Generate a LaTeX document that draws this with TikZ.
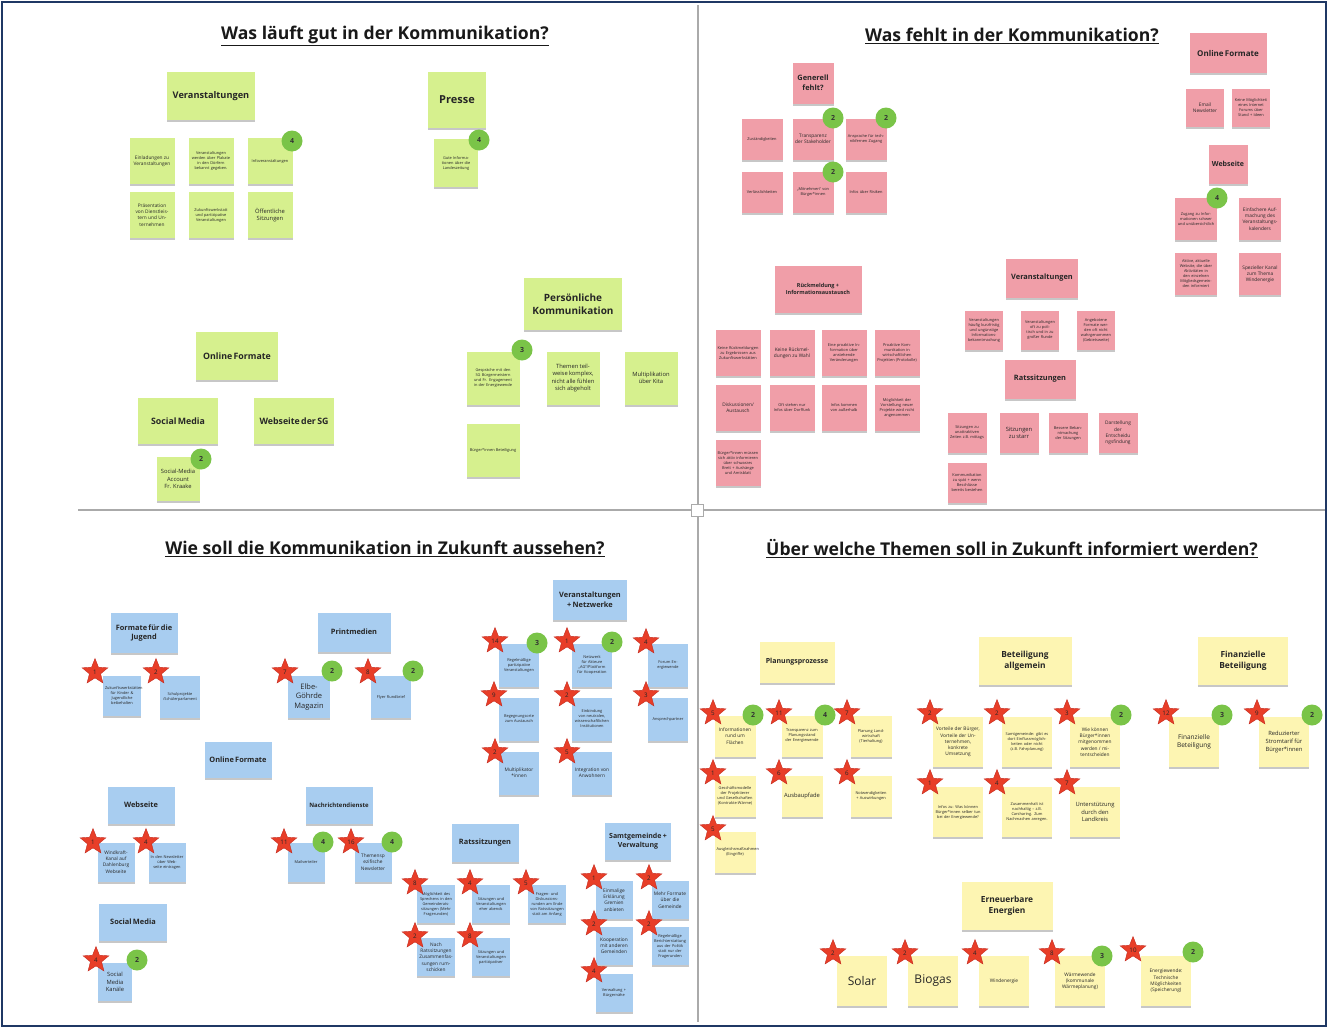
\documentclass[tikz,border=0pt]{standalone}
\usepackage{fontspec}
\setmainfont{Open Sans}
\usetikzlibrary{shapes.geometric,shadows}
\definecolor{gnote}{RGB}{214,240,142}
\definecolor{pnote}{RGB}{240,158,168}
\definecolor{bnote}{RGB}{168,205,240}
\definecolor{ynote}{RGB}{253,245,178}
\definecolor{starred}{RGB}{232,62,40}
\definecolor{stardark}{RGB}{196,40,28}
\definecolor{badgegreen}{RGB}{122,196,72}
\definecolor{navy}{RGB}{31,56,100}
\definecolor{divider}{RGB}{170,170,170}
\newcommand{\fhd}{\bfseries\fontsize{8.8}{11.5}\selectfont}
\newcommand{\fhs}{\bfseries\fontsize{7.4}{9.6}\selectfont}
\newcommand{\fhy}{\bfseries\fontsize{8.4}{11}\selectfont}
\newcommand{\fmd}{\fontsize{5.8}{7.6}\selectfont}
\newcommand{\fsm}{\fontsize{4.8}{6.2}\selectfont}
\newcommand{\flg}{\fontsize{7.5}{9.4}\selectfont}
\newcommand{\fxl}{\fontsize{12}{15}\selectfont}
\newcommand{\nt}[7]{\pgfmathsetmacro{\tw}{#5-4}\node[#1, minimum width=#5pt, minimum height=#6pt, text width=\tw pt] (#2) at (#3,#4) {#7\par};}
\newcommand{\hdr}[7]{\pgfmathsetmacro{\tw}{#5-2}\node[#1, inner xsep=1pt, minimum width=#5pt, minimum height=#6pt, text width=\tw pt] (#2) at (#3,#4) {#7\par};}
\newcommand{\strn}[4]{\node[votestar] (#1) at (#2,#3) {#4};}
\newcommand{\bdg}[4]{\node[badge] (#1) at (#2,#3) {#4};}
\tikzset{
  note/.style={inner xsep=2pt, inner ysep=1pt, align=center, text=black!85,
    font=\fontsize{3.9}{5}\selectfont,
    drop shadow={shadow xshift=0.4pt, shadow yshift=-2.2pt, opacity=0.22, fill=black}},
  gn/.style={note, fill=gnote},
  pn/.style={note, fill=pnote},
  bn/.style={note, fill=bnote},
  yn/.style={note, fill=ynote},
  votestar/.style={star, star points=5, star point ratio=2.3, minimum size=27pt, inner sep=0pt,
    fill=starred, draw=stardark, line width=0.4pt, text=black!85, font=\fontsize{6.2}{6.2}\selectfont},
  badge/.style={circle, minimum size=21pt, inner sep=0pt, fill=badgegreen,
    text=black!80, font=\bfseries\fontsize{7}{7}\selectfont},
  qtitle/.style={font=\bfseries\fontsize{17.6}{20}\selectfont, text=black!90, inner sep=0pt}
}
\begin{document}
\begin{tikzpicture}[x=1pt,y=-1pt]
\useasboundingbox (0,0) rectangle (1328,1028);
\fill[white] (0,0) rectangle (1328,1028);
\draw[navy, line width=2.5pt] (2,2) rectangle (1326,1026);
\draw[divider, line width=1.2pt] (698,5) -- (698,1022);
\draw[divider, line width=1.2pt] (78,510) -- (1325,510);
\node[draw=divider, fill=white, minimum size=12pt, inner sep=0pt] (ctr) at (697,510) {};

% titles
\node[qtitle] (t1) at (385,36) {\underline{Was läuft gut in der Kommunikation?}};
\node[qtitle] (t2) at (1012,36) {\underline{Was fehlt in der Kommunikation?}};
\node[qtitle] (t3) at (385,549) {\underline{Wie soll die Kommunikation in Zukunft aussehen?}};
\node[qtitle] (t4) at (1012,549) {\underline{Über welche Themen soll in Zukunft informiert werden?}};

% ===== Q1 green =====
\hdr{gn}{g1h}{211}{96}{88}{48}{\bfseries\fontsize{9.2}{12}\selectfont Veranstaltungen}
\nt{gn}{g1a}{152}{161}{45}{46}{\fsm Einladungen zu Veranstaltungen}
\nt{gn}{g1b}{211}{161}{45}{46}{Veranstaltungen werden über Plakate in den Dörfern bekannt gegeben.}
\nt{gn}{g1c}{270}{161}{45}{46}{Infoveranstaltungen}
\nt{gn}{g1d}{152}{215}{45}{46}{\fsm Präsentation von Dienstleistern und Unternehmen}
\nt{gn}{g1e}{211}{215}{45}{46}{Zukunftswerkstatt und partizipative Veranstaltungen}
\nt{gn}{g1f}{270}{215}{45}{46}{\fmd Öffentliche Sitzungen}
\bdg{b1}{292}{141}{4}

\hdr{gn}{g2h}{457}{100}{58}{56}{\bfseries\fontsize{11}{13}\selectfont Presse}
\nt{gn}{g2a}{456}{163}{44}{48}{Gute Informationen über die Landeszeitung}
\bdg{b2}{479}{140}{4}

\hdr{gn}{g3h}{573}{304}{98}{52}{\bfseries\fontsize{10}{13.5}\selectfont Persönliche\\Kommunikation}
\nt{gn}{g3a}{493}{378}{53}{53}{Gespräche mit den SG Bürgermeistern und Fr. Engagement in der Energiewende}
\nt{gn}{g3b}{573}{378}{53}{53}{\fmd Themen teilweise komplex, nicht alle fühlen sich abgeholt}
\nt{gn}{g3c}{651}{378}{53}{53}{\fmd Multiplikation über Kita}
\nt{gn}{g3d}{493}{450}{53}{53}{Bürger*innen Beteiligung}
\bdg{b3}{522}{350}{3}

\hdr{gn}{g4h}{237}{356}{82}{48}{\fhd Online Formate}
\hdr{gn}{g4a}{178}{421}{80}{46}{\fhd Social Media}
\hdr{gn}{g4b}{294}{421}{80}{46}{\fhd Webseite der SG}
\nt{gn}{g4c}{178}{479}{43}{44}{\fmd Social-Media Account Fr. Kraake}
\bdg{b4}{201}{459}{2}

% ===== Q2 pink =====
\hdr{pn}{p1h}{813}{83}{41}{41}{\fhs Generell\\fehlt?}
\nt{pn}{p1a}{762}{139}{41}{41}{Zuständigkeiten}
\nt{pn}{p1b}{813}{139}{41}{41}{\fsm Transparenz der Stakeholder}
\nt{pn}{p1c}{866}{139}{41}{41}{Ansprache für technikfernen Zugang}
\nt{pn}{p1d}{762}{192}{41}{41}{Verlässlichkeiten}
\nt{pn}{p1e}{813}{192}{41}{41}{„Mitnehmen“ von Bürger*innen}
\nt{pn}{p1f}{866}{192}{41}{41}{Infos über Risiken}
\bdg{b5}{833}{118}{2}
\bdg{b6}{886}{118}{2}
\bdg{b7}{833}{172}{2}

\hdr{pn}{p2h}{1228}{53}{77}{40}{\bfseries\fontsize{8}{10}\selectfont Online Formate}
\nt{pn}{p2a}{1205}{108}{38}{38}{\fsm Email Newsletter}
\nt{pn}{p2b}{1251}{108}{38}{38}{Keine Möglichkeit eines Internet Forums über Stand + Ideen}
\hdr{pn}{p3h}{1228}{164}{39}{39}{\bfseries\fontsize{7}{9}\selectfont Webseite}
\nt{pn}{p3a}{1196}{219}{42}{42}{Zugang zu Informationen schwer und unübersichtlich}
\nt{pn}{p3b}{1260}{219}{42}{42}{\fsm Einfachere Aufmachung des Veranstaltungs\-kalenders}
\nt{pn}{p3c}{1196}{274}{42}{42}{Aktive, aktuelle Website, die über Aktivitäten in den einzelnen Mitgliedsgemeinden informiert}
\nt{pn}{p3d}{1260}{274}{42}{42}{\fsm Spezieller Kanal zum Thema Windenergie}
\bdg{b8}{1217}{198}{4}

\hdr{pn}{p4h}{818}{289}{87}{47}{\bfseries\fontsize{5.5}{7.5}\selectfont Rückmeldung +\\Informationsaustausch}
\nt{pn}{p4a}{738}{353}{45}{46}{Keine Rückmeldungen zu Ergebnissen aus Zukunftswerkstätten}
\nt{pn}{p4b}{792}{353}{45}{46}{\fsm Keine Rückmeldungen zu Wahl}
\nt{pn}{p4c}{844}{353}{45}{46}{Eine proaktive Information über anstehende Veränderungen}
\nt{pn}{p4d}{897}{353}{45}{46}{Proaktive Kommunikation in wirtschaftlichen Projekten (Protokolle)}
\nt{pn}{p4e}{738}{408}{45}{46}{\fsm Diskussionen/ Austausch}
\nt{pn}{p4f}{792}{408}{45}{46}{Oft stehen nur Infos über Dorffunk}
\nt{pn}{p4g}{844}{408}{45}{46}{Infos kommen von außerhalb}
\nt{pn}{p4i}{897}{408}{45}{46}{Möglichkeit der Vorstellung neuer Projekte wird nicht angenommen}
\nt{pn}{p4j}{738}{463}{45}{46}{Bürger*innen müssen sich aktiv informieren über schwarzes Brett + Aushänge und Amtsblatt}

\hdr{pn}{p5h}{1042}{278}{72}{39}{\fhs Veranstaltungen}
\nt{pn}{p5a}{984}{330}{38}{39}{Veranstaltungen häufig kurzfristig und ungünstige Informations\-bekanntmachung}
\nt{pn}{p5b}{1040}{330}{38}{39}{Veranstaltungen oft zu politisch und in zu großer Runde}
\nt{pn}{p5c}{1096}{330}{38}{39}{Angebotene Formate werden oft nicht wahrgenommen (Gebietsweite)}
\hdr{pn}{p6h}{1040}{379}{71}{39}{\fhs Ratssitzungen}
\nt{pn}{p6a}{967}{433}{39}{40}{Sitzungen zu unattraktiven Zeiten z.B. mittags}
\nt{pn}{p6b}{1019}{433}{39}{40}{\fmd Sitzungen zu starr}
\nt{pn}{p6c}{1068}{433}{39}{40}{Bessere Bekanntmachung der Sitzungen}
\nt{pn}{p6d}{1118}{433}{39}{40}{\fsm Darstellung\\der\\Entscheidu\\ngsfindung}
\nt{pn}{p6e}{967}{483}{39}{40}{Kommunikation zu spät + wenn Beschlüsse bereits bestehen}

% ===== Q3 blue =====
\hdr{bn}{q1h}{144}{633}{67}{40}{\fhs Formate für die\\Jugend}
\nt{bn}{q1a}{122}{696}{38}{40}{Zukunftswerkstätten für Kinder \& Jugendliche beibehalten}
\nt{bn}{q1b}{180}{697}{40}{42}{Schulprojekte /Schülerparlament}
\strn{s1}{95}{672}{1}
\strn{s2}{156}{672}{2}
\hdr{bn}{q2h}{354}{632}{73}{39}{\fhs Printmedien}
\nt{bn}{q2a}{309}{697}{42}{42}{\flg Elbe-\\Göhrde\\Magazin}
\nt{bn}{q2b}{391}{697}{40}{42}{Flyer Rundbrief}
\strn{s3}{285}{672}{7}
\bdg{b9}{332}{671}{2}
\strn{s4}{368}{672}{8}
\bdg{b10}{413}{671}{2}

\hdr{bn}{q3h}{590}{600}{74}{40}{\fhs Veranstaltungen\\+ Netzwerke}
\nt{bn}{q3a}{519}{665}{40}{43}{Regelmäßige partizipative Veranstaltungen}
\nt{bn}{q3b}{592}{665}{40}{43}{Netzwerk für Akteure „AG“/Plattform für Kooperation}
\nt{bn}{q3c}{668}{665}{40}{43}{Forum Energiewende}
\nt{bn}{q3d}{519}{719}{40}{43}{Begegnungsorte zum Austausch}
\nt{bn}{q3e}{592}{719}{40}{43}{Einbindung von neutralen, wissenschaftlichen Institutionen}
\nt{bn}{q3f}{668}{719}{40}{43}{Ansprechpart\-ner}
\nt{bn}{q3g}{519}{773}{40}{43}{\fsm Multiplikator *innen}
\nt{bn}{q3i}{592}{773}{40}{43}{\fsm Integration von Anwohnern}
\strn{s5}{495}{641}{14}
\strn{s6}{494}{695}{9}
\strn{s7}{495}{752}{2}
\strn{s8}{567}{641}{1}
\strn{s9}{567}{695}{2}
\strn{s10}{567}{752}{5}
\strn{s11}{646}{642}{4}
\strn{s12}{646}{695}{3}
\bdg{b11}{537}{643}{3}
\bdg{b12}{612}{642}{2}

\hdr{bn}{q4h}{238}{760}{67}{36}{\fhs Online Formate}
\hdr{bn}{q5h}{141}{805}{67}{37}{\fhs Webseite}
\nt{bn}{q5a}{116}{862}{37}{39}{\fsm Windkraft-Kanal auf Dahlenburg Webseite}
\nt{bn}{q5b}{167}{862}{37}{39}{In den Newsletter über Webseite eintragen}
\strn{s13}{93}{842}{1}
\strn{s14}{146}{842}{4}
\hdr{bn}{q6h}{339}{805}{67}{37}{\bfseries\fontsize{6}{7.5}\selectfont Nachrichtendienste}
\nt{bn}{q6a}{306}{862}{37}{39}{Mailverteiler}
\nt{bn}{q6b}{373}{862}{37}{39}{\fsm Themensp\\ezifische\\Newsletter}
\strn{s15}{284}{842}{11}
\bdg{b13}{323}{842}{4}
\strn{s16}{351}{842}{16}
\bdg{b14}{392}{842}{4}
\hdr{bn}{q7h}{133}{922}{68}{37}{\fhs Social Media}
\nt{bn}{q7a}{115}{982}{34}{38}{\fmd Social Media Kanäle}
\strn{s17}{96}{960}{4}
\bdg{b15}{137}{960}{2}

\hdr{bn}{q8h}{485}{843}{67}{38}{\fhs Ratssitzungen}
\nt{bn}{q8a}{436}{904}{38}{38}{Möglichkeit des Sprechens in den Gemeinderats\-sitzungen (Mehr Fragerunden)}
\nt{bn}{q8b}{491}{904}{38}{38}{Sitzungen und Veranstaltungen eher abends}
\nt{bn}{q8c}{547}{904}{38}{38}{Fragen- und Diskussions\-runden am Ende von Ratssitzungen statt am Anfang}
\nt{bn}{q8d}{436}{957}{38}{38}{\fsm Nach Ratssitzungen Zusammenfas\-sungen rumschicken}
\nt{bn}{q8e}{491}{957}{38}{38}{Sitzungen und Veranstaltungen partizipativer}
\strn{s18}{415}{883}{8}
\strn{s19}{470}{883}{4}
\strn{s20}{526}{883}{5}
\strn{s21}{415}{936}{2}
\strn{s22}{470}{936}{8}

\hdr{bn}{q9h}{638}{841}{66}{37}{\bfseries\fontsize{7}{9.2}\selectfont Samtgemeinde +\\Verwaltung}
\nt{bn}{q9a}{614}{900}{37}{38}{\fsm Einmalige Erklärung Gremien anbieten}
\nt{bn}{q9b}{670}{900}{37}{38}{\fsm Mehr Formate über die Gemeinde}
\nt{bn}{q9c}{614}{946}{37}{38}{\fsm Kooperation mit anderen Gemeinden}
\nt{bn}{q9d}{670}{946}{37}{38}{Regelmäßige Bericht\-erstattung aus der Politik statt nur der Fragerunden}
\nt{bn}{q9e}{614}{993}{37}{38}{Verwaltung + Bürgernähe}
\strn{s23}{594}{878}{1}
\strn{s24}{649}{878}{2}
\strn{s25}{594}{924}{2}
\strn{s26}{649}{924}{2}
\strn{s27}{594}{971}{4}

% ===== Q4 yellow =====
\hdr{yn}{y1h}{797}{662}{75}{41}{\bfseries\fontsize{7}{9}\selectfont Planungsprozesse}
\nt{yn}{y1a}{735}{736}{41}{41}{\fsm Informationen rund um Flächen}
\nt{yn}{y1b}{802}{736}{41}{41}{Transparenz zum Planungsstand der Energiewende}
\nt{yn}{y1c}{871}{736}{41}{41}{Planung Landwirtschaft (Tierhaltung)}
\nt{yn}{y1d}{735}{796}{41}{41}{Geschäftsmodelle der Projektierer und Gesellschaften (Kontrakte-Wärme)}
\nt{yn}{y1e}{802}{796}{41}{41}{\fmd Ausbaupfade}
\nt{yn}{y1f}{871}{796}{41}{41}{Notwendigkeiten + Auswirkungen}
\nt{yn}{y1g}{735}{852}{41}{41}{Ausgleichsmaßnahmen (Eingriffe)}
\strn{s28}{713}{713}{5}
\strn{s29}{779}{713}{11}
\strn{s30}{847}{713}{7}
\strn{s31}{713}{773}{1}
\strn{s32}{779}{773}{6}
\strn{s33}{847}{773}{6}
\strn{s34}{713}{829}{5}
\bdg{b16}{753}{715}{2}
\bdg{b17}{825}{715}{4}

\hdr{yn}{y2h}{1025}{661}{93}{48}{\fhy Beteiligung\\allgemein}
\nt{yn}{y2a}{958}{742}{50}{50}{\fsm Vorteile der Bürger, Vorteile der Unternehmen, konkrete Umsetzung}
\nt{yn}{y2b}{1027}{742}{50}{50}{Samtgemeinde: gibt es dort Einflussmöglich\-keiten oder nicht (z.B. Fahrplanung)}
\nt{yn}{y2c}{1095}{742}{50}{50}{\fsm Wie können Bürger*innen mitgenommen werden / mitentscheiden}
\nt{yn}{y2d}{958}{812}{50}{50}{Infos zu: Was können Bürger*innen selber tun bei der Energiewende?}
\nt{yn}{y2e}{1027}{812}{50}{50}{Zusammenhalt ist nachhaltig – z.B. Carsharing. Zum Nachmachen anregen.}
\nt{yn}{y2f}{1095}{812}{50}{50}{\fmd Unterstützung durch den Landkreis}
\strn{s35}{930}{713}{2}
\strn{s36}{997}{713}{2}
\strn{s37}{1067}{713}{3}
\strn{s38}{930}{783}{1}
\strn{s39}{997}{783}{4}
\strn{s40}{1067}{783}{7}
\bdg{b18}{1121}{715}{2}

\hdr{yn}{y3h}{1243}{661}{90}{48}{\fhy Finanzielle\\Beteiligung}
\nt{yn}{y3a}{1194}{742}{50}{50}{\fontsize{6.5}{8.5}\selectfont Finanzielle Beteiligung}
\nt{yn}{y3b}{1284}{742}{50}{50}{\fmd Reduzierter Stromtarif für Bürger*innen}
\strn{s41}{1166}{713}{12}
\bdg{b19}{1222}{715}{3}
\strn{s42}{1257}{713}{9}
\bdg{b20}{1312}{715}{2}

\hdr{yn}{y4h}{1007}{906}{91}{48}{\fhy Erneuerbare\\Energien}
\nt{yn}{y4a}{862}{981}{50}{50}{\fxl Solar}
\nt{yn}{y4b}{933}{981}{50}{50}{\fxl Biogas}
\nt{yn}{y4c}{1004}{981}{50}{50}{\fsm Windenergie}
\nt{yn}{y4d}{1080}{981}{50}{50}{\fsm Wärmewende (kommunale Wärmeplanung)}
\nt{yn}{y4e}{1166}{981}{50}{50}{\fsm Energiewende: Technische Möglichkeiten (Speicherung)}
\strn{s43}{833}{953}{2}
\strn{s44}{905}{953}{2}
\strn{s45}{975}{953}{4}
\strn{s46}{1052}{953}{8}
\strn{s47}{1133}{950}{10}
\bdg{b21}{1102}{956}{3}
\bdg{b22}{1193}{952}{2}
\end{tikzpicture}
\end{document}
